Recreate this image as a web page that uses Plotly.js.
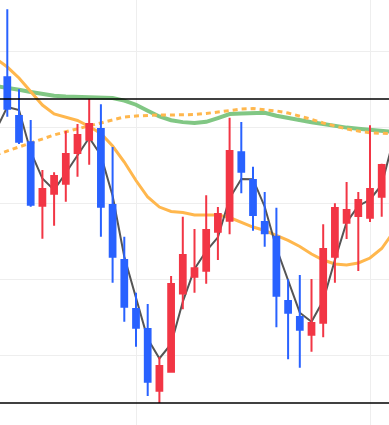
<!DOCTYPE html>
<html>
<head>
<meta charset="utf-8">
<script src="https://cdn.plot.ly/plotly-3.0.1.min.js"></script>
<style>
  html, body { margin: 0; padding: 0; background: #fff; }
  #chart { width: 389px; height: 425px; }
</style>
</head>
<body>
<div id="chart"></div>
<script>
// Candle index positions
const candleX = [9,10,11,12,13,14,15,16,17,18,19,20,21,22,23,24,25,26,27,28,29,30,31,32,33,34,35,36,37,38,39,40,41];
const openV  = [136.54,131.45,127.99,119.64,121.22,122.54,126.58,128.33,129.74,119.74,112.5,106.05,103.42,95.30,97.80,108.09,110.30,111.09,116.22,117.67,126.67,123.03,117.5,115.57,107.11,105,102.67,104.25,112.93,117.41,118.29,118.07,120.83];
const highV  = [145.49,134.96,130.92,124.34,124.04,129.47,130.39,133.68,132.99,127.37,115.57,108.20,106.71,99.74,110.39,118.20,116.58,121.01,119.47,131.22,130.66,124.78,121.45,119.38,109.96,110.53,110,117.20,119.96,122.76,121.45,130.22,125.17];
const lowV   = [131.36,127.76,119.51,115.30,117.01,120.17,123.46,125.04,115.57,109.51,104.38,101.09,94.61,93.68,97.76,106.01,108.20,109.38,112.5,115.88,121.28,116.36,114.25,103.64,99.43,98.33,100.43,102.33,109.51,115.26,111.05,117.5,118.20];
const closeV = [132.41,128.07,119.78,121.84,123.55,126.45,128.95,130.39,119.51,112.93,106.36,103.59,96.49,98.55,109.34,113.16,111.41,116.45,118.55,126.84,124.12,118.42,116.01,107.80,105.57,103.33,104.21,113.95,119.34,119.08,120.39,121.84,125];

// Line series (one point before and after the visible candles)
const lineX = [8,9,10,11,12,13,14,15,16,17,18,19,20,21,22,23,24,25,26,27,28,29,30,31,32,33,34,35,36,37,38,39,40,41,42];
const ma3 = [129.54,132.63,132.24,126.75,123.22,121.72,123.95,126.32,128.59,126.29,120.95,112.93,107.63,102.14,99.54,101.46,107.01,111.32,113.68,115.49,120.62,123.17,123.13,119.51,114.08,109.79,105.57,104.37,107.16,112.5,117.46,119.61,120.43,122.41,128.29];
const maFast = [139.01,137.89,136.45,134.67,132.89,131.71,131.32,130.86,130.07,129.14,127.5,125.39,122.96,120.79,119.47,118.88,118.75,118.42,118.42,118.42,118.09,117.5,116.84,116.38,115.72,115.07,114.28,113.29,112.5,111.97,111.84,112.11,112.76,114.01,116.18];
const maSlow = [135.39,135.2,134.89,134.61,134.32,134.11,134.01,133.96,133.97,133.91,133.82,133.47,132.93,132.14,131.39,130.89,130.64,130.53,130.68,131.18,131.7,131.79,131.86,131.86,131.49,131.16,130.86,130.63,130.39,130.13,129.92,129.76,129.61,129.46,129.34];
const maDash = [126.32,126.84,127.37,127.92,128.47,128.95,129.37,129.74,130.13,130.51,130.95,131.32,131.45,131.53,131.58,131.58,131.59,131.64,131.78,131.97,132.22,132.36,132.43,132.3,132.11,131.84,131.47,131.01,130.53,130.11,129.74,129.47,129.25,129.17,129.11];

// Horizontal reference levels
const levelHigh = 133.68;
const levelLow = 93.68;

const xRange = [8.376, 41.624];
const yRange = [90.79, 146.71];

const traces = [
  {type:'scatter', mode:'lines', x:lineX, y:maSlow, line:{color:'rgba(129,199,132,1)', width:4}, hoverinfo:'skip'},
  {type:'scatter', mode:'lines', x:lineX, y:maDash, line:{color:'rgba(255,183,77,1)', width:3, dash:'5px,4px'}, hoverinfo:'skip'},
  {type:'scatter', mode:'lines', x:lineX, y:maFast, line:{color:'rgba(255,183,77,1)', width:3}, hoverinfo:'skip'},
  {type:'scatter', mode:'lines', x:lineX, y:ma3, line:{color:'#555555', width:2}, hoverinfo:'skip'},
  {type:'candlestick', xaxis:'x2', yaxis:'y2', x:candleX, open:openV, high:highV, low:lowV, close:closeV,
    increasing:{line:{color:'#F23645', width:2}, fillcolor:'#F23645'},
    decreasing:{line:{color:'#2962FF', width:2}, fillcolor:'#2962FF'}}
];

const layout = {
  width: 389, height: 425,
  margin: {l:0, r:0, t:0, b:0, pad:0},
  paper_bgcolor: '#ffffff', plot_bgcolor: '#ffffff',
  showlegend: false,
  xaxis: {range:xRange, tick0:0, dtick:20, showgrid:true, gridcolor:'#eeeeee', gridwidth:1,
          zeroline:false, showticklabels:false, ticks:'', showline:false, rangeslider:{visible:false}},
  yaxis: {range:yRange, tick0:0, dtick:10, showgrid:true, gridcolor:'#eeeeee', gridwidth:1,
          zeroline:false, showticklabels:false, ticks:'', showline:false},
  xaxis2: {range:xRange, overlaying:'x', visible:false, showgrid:false, zeroline:false, rangeslider:{visible:false}},
  yaxis2: {range:yRange, overlaying:'y', visible:false, showgrid:false, zeroline:false},
  shapes: [
    {type:'line', xref:'paper', x0:0, x1:1, yref:'y', y0:levelHigh, y1:levelHigh, line:{color:'#000', width:1.5}},
    {type:'line', xref:'paper', x0:0, x1:1, yref:'y', y0:levelLow, y1:levelLow, line:{color:'#000', width:1.5}}
  ]
};

Plotly.newPlot('chart', traces, layout, {displayModeBar:false, staticPlot:true});
</script>
</body>
</html>
